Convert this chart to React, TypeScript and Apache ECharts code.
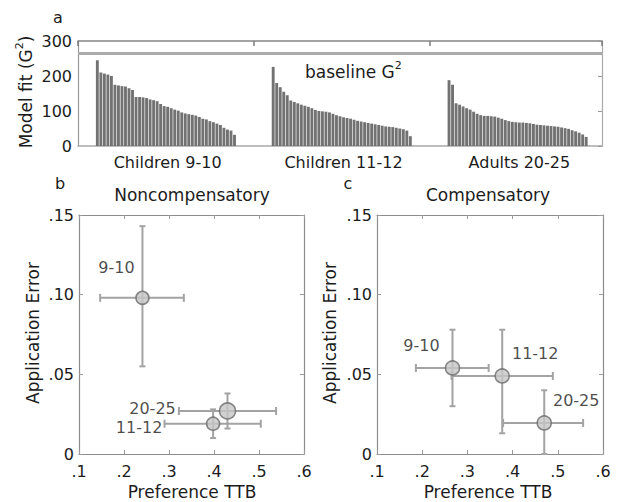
import React, { useEffect, useRef } from 'react';
import * as echarts from 'echarts';

// ---------- Panel a: model fit per participant ----------
const groupNames = ['Children 9-10', 'Children 11-12', 'Adults 20-25'];
const fitChildren910 = [245, 210, 207, 204, 200, 175, 173, 171, 170, 165, 160, 140, 140, 139, 137, 133, 131, 128, 120, 114, 112, 108, 104, 101, 96, 93, 91, 89, 87, 83, 78, 76, 71, 68, 64, 60, 52, 47, 44, 32];
const fitChildren1112 = [226, 180, 168, 155, 145, 130, 126, 122, 118, 115, 112, 108, 103, 100, 99, 98, 96, 92, 88, 85, 82, 80, 78, 75, 72, 70, 68, 66, 64, 62, 60, 58, 56, 55, 54, 52, 50, 48, 44, 28];
const fitAdults2025 = [188, 175, 122, 118, 113, 108, 104, 98, 92, 88, 86, 86, 85, 84, 81, 78, 74, 71, 69, 68, 67, 67, 66, 65, 63, 61, 60, 59, 58, 57, 56, 55, 53, 51, 49, 45, 42, 38, 33, 26];
const baselineG2 = 266;
const fitAxisMin = 0;
const fitAxisMax = 300;
const fitAxisStep = 100;

// ---------- Panels b & c ----------
const ageGroups = ['9-10', '11-12', '20-25'];
// Noncompensatory
const nonCompTTB = [0.241, 0.398, 0.430];
const nonCompTTBLow = [0.147, 0.290, 0.322];
const nonCompTTBHigh = [0.333, 0.504, 0.538];
const nonCompErr = [0.098, 0.019, 0.027];
const nonCompErrLow = [0.055, 0.010, 0.016];
const nonCompErrHigh = [0.143, 0.028, 0.038];
// Compensatory
const compTTB = [0.267, 0.377, 0.470];
const compTTBLow = [0.186, 0.265, 0.379];
const compTTBHigh = [0.347, 0.489, 0.556];
const compErr = [0.054, 0.049, 0.0195];
const compErrLow = [0.030, 0.013, 0.0];
const compErrHigh = [0.078, 0.078, 0.040];

const ttbTicks = { min: 0.1, max: 0.6, step: 0.1 };
const errTicks = { min: 0, max: 0.15, step: 0.05 };

// styling
const FONT = 'DejaVu Sans';
const TXT = '#1c1c1c';
const AXIS = '#8c8c8c';
const markerSizeB = [13, 13, 16];
const markerSizeC = [14, 14, 14];
const labelOffsetB = [[-26, -30], [-74, 4], [-75, -2]];
const labelOffsetC = [[-31, -22], [33, -22], [32, -22]];

// layout of the category slots in panel a
const PAD_LEFT = 5;
const GAP = 10;
const PAD_RIGHT = 4;

function buildSlots() {
  const values: (number | null)[] = [];
  const labels: string[] = [];
  const centers: number[] = [];
  const groups = [fitChildren910, fitChildren1112, fitAdults2025];
  const pushEmpty = (n: number) => {
    for (let i = 0; i < n; i++) { values.push(null); labels.push(''); }
  };
  pushEmpty(PAD_LEFT);
  groups.forEach((g, gi) => {
    const start = values.length;
    const mid = start + Math.floor(g.length / 2);
    centers.push(mid);
    g.forEach((v, i) => {
      values.push(v);
      labels.push(start + i === mid ? groupNames[gi] : '');
    });
    if (gi < groups.length - 1) pushEmpty(GAP);
  });
  pushEmpty(PAD_RIGHT);
  return { values, labels, centers };
}

const fmtTTB = (v: number) => '.' + Math.round(v * 10);
const fmtErr = (v: number) => (Math.abs(v) < 1e-9 ? '0' : '.' + String(Math.round(v * 100)).padStart(2, '0'));

function errorBarSeries(xi: number, yi: number, xs: number[], xl: number[], xh: number[], ys: number[], yl: number[], yh: number[]) {
  return {
    type: 'custom',
    xAxisIndex: xi,
    yAxisIndex: yi,
    z: 2,
    encode: { x: 0, y: 1 },
    data: xs.map((x, i) => [x, ys[i], xl[i], xh[i], yl[i], yh[i]]),
    renderItem: (params: any, api: any) => {
      const x = api.value(0), y = api.value(1);
      const pL = api.coord([api.value(2), y]);
      const pR = api.coord([api.value(3), y]);
      const pT = api.coord([x, api.value(5)]);
      const pB = api.coord([x, api.value(4)]);
      const st = { stroke: '#a3a3a3', lineWidth: 2 };
      const hc = 4, vc = 3;
      const ln = (x1: number, y1: number, x2: number, y2: number) => ({ type: 'line', shape: { x1, y1, x2, y2 }, style: st });
      return {
        type: 'group',
        children: [
          ln(pL[0], pL[1], pR[0], pR[1]),
          ln(pL[0], pL[1] - hc, pL[0], pL[1] + hc),
          ln(pR[0], pR[1] - hc, pR[0], pR[1] + hc),
          ln(pT[0], pT[1], pB[0], pB[1]),
          ln(pT[0] - vc, pT[1], pT[0] + vc, pT[1]),
          ln(pB[0] - vc, pB[1], pB[0] + vc, pB[1]),
        ],
      };
    },
  };
}

function pointSeries(xi: number, yi: number, xs: number[], ys: number[], sizes: number[], offsets: number[][]) {
  return {
    type: 'scatter',
    xAxisIndex: xi,
    yAxisIndex: yi,
    z: 3,
    symbol: 'circle',
    itemStyle: { color: '#c6c6c6', borderColor: '#6c6c6c', borderWidth: 1.6 },
    label: {
      show: true,
      position: 'inside',
      formatter: (p: any) => ageGroups[p.dataIndex],
      color: TXT,
      fontSize: 16,
      fontFamily: FONT,
    },
    data: xs.map((x, i) => ({
      value: [x, ys[i]],
      symbolSize: sizes[i],
      label: { offset: offsets[i] },
    })),
  };
}

function scatterAxes(grid: number) {
  const lineStyle = { color: AXIS, width: 1.2 };
  const tick = { show: true, inside: true, length: 4, lineStyle: { color: '#9a9a9a' } };
  const x = [
    {
      type: 'value', gridIndex: grid, position: 'bottom', min: ttbTicks.min, max: ttbTicks.max, interval: ttbTicks.step,
      axisLine: { show: true, onZero: false, lineStyle }, axisTick: tick, splitLine: { show: false },
      axisLabel: { formatter: fmtTTB, color: TXT, fontSize: 16, fontFamily: FONT, margin: 9 },
    },
    {
      type: 'value', gridIndex: grid, position: 'top', min: ttbTicks.min, max: ttbTicks.max, interval: ttbTicks.step,
      axisLine: { show: true, onZero: false, lineStyle }, axisTick: tick, splitLine: { show: false }, axisLabel: { show: false },
    },
  ];
  const y = [
    {
      type: 'value', gridIndex: grid, position: 'left', min: errTicks.min, max: errTicks.max, interval: errTicks.step,
      axisLine: { show: true, onZero: false, lineStyle }, axisTick: tick, splitLine: { show: false },
      axisLabel: { formatter: fmtErr, color: TXT, fontSize: 16, fontFamily: FONT, margin: 5 },
    },
    {
      type: 'value', gridIndex: grid, position: 'right', min: errTicks.min, max: errTicks.max, interval: errTicks.step,
      axisLine: { show: true, onZero: false, lineStyle }, axisTick: tick, splitLine: { show: false }, axisLabel: { show: false },
    },
  ];
  return { x, y };
}

function txt(text: string, x: number, y: number, extra: any = {}) {
  return {
    type: 'text',
    x,
    y,
    rotation: extra.rotation || 0,
    style: {
      text,
      fontSize: extra.fontSize || 16,
      fontFamily: FONT,
      fill: TXT,
      align: extra.align || 'center',
      textAlign: extra.align || 'center',
      verticalAlign: 'middle',
      textVerticalAlign: 'middle',
      rich: extra.rich,
    },
  };
}

const supRich = {
  n: { fontSize: 17, lineHeight: 24, fontFamily: FONT, fill: TXT, color: TXT },
  s: { fontSize: 11, lineHeight: 11, fontFamily: FONT, fill: TXT, color: TXT, verticalAlign: 'top' },
};

export default function App() {
  const ref = useRef<HTMLDivElement>(null);
  useEffect(() => {
    if (!ref.current) return;
    const chart = echarts.init(ref.current, undefined, { renderer: 'svg' });
    const slots = buildSlots();
    const b = scatterAxes(1);
    const c = scatterAxes(2);
    // top axis of panel a: a value axis in slot units, shifted so that ticks land on the group centres
    const slotCount = slots.values.length;
    const groupStep = slots.centers[1] - slots.centers[0];
    const topMin = -slots.centers[0];
    const topMax = slotCount - slots.centers[0];

    const option: any = {
      animation: false,
      textStyle: { fontFamily: FONT },
      grid: [
        { left: 78, top: 41, width: 524, height: 105 },
        { left: 79, top: 215, width: 225, height: 239 },
        { left: 377, top: 215, width: 226, height: 239 },
      ],
      xAxis: [
        {
          type: 'category', gridIndex: 0, position: 'bottom', data: slots.labels,
          axisLine: { show: true, onZero: false, lineStyle: { color: '#a9a9a9', width: 1.5 } },
          axisTick: { show: false },
          axisLabel: { interval: 0, color: TXT, fontSize: 16, fontFamily: FONT, margin: 8 },
          splitLine: { show: false },
        },
        {
          type: 'value', gridIndex: 0, position: 'top', min: topMin, max: topMax, interval: groupStep,
          axisLine: { show: true, onZero: false, lineStyle: { color: '#858585', width: 1.5 } },
          axisTick: { show: true, inside: true, length: 5, lineStyle: { color: '#7a7a7a', width: 1.5 } },
          axisLabel: { show: false },
          splitLine: { show: false },
        },
        ...b.x,
        ...c.x,
      ],
      yAxis: [
        {
          type: 'value', gridIndex: 0, position: 'left', min: fitAxisMin, max: fitAxisMax, interval: fitAxisStep,
          axisLine: { show: true, onZero: false, lineStyle: { color: '#999', width: 1.2 } },
          axisTick: { show: false },
          axisLabel: { color: TXT, fontSize: 16, fontFamily: FONT, margin: 6 },
          splitLine: { show: false },
        },
        {
          type: 'value', gridIndex: 0, position: 'right', min: fitAxisMin, max: fitAxisMax, interval: fitAxisStep,
          axisLine: { show: true, onZero: false, lineStyle: { color: '#aaa', width: 1.2 } },
          axisTick: { show: true, inside: true, length: 4, lineStyle: { color: '#999' } },
          axisLabel: { show: false },
          splitLine: { show: false },
        },
        ...b.y,
        ...c.y,
      ],
      series: [
        {
          type: 'bar',
          xAxisIndex: 0,
          yAxisIndex: 0,
          data: slots.values.map((v) => (v === null ? '-' : v)),
          barCategoryGap: '18%',
          itemStyle: { color: '#727272' },
          markLine: {
            silent: true,
            symbol: 'none',
            label: { show: false },
            lineStyle: { color: '#ababab', width: 3, type: 'solid' },
            data: [{ yAxis: baselineG2 }],
          },
        },
        errorBarSeries(2, 2, nonCompTTB, nonCompTTBLow, nonCompTTBHigh, nonCompErr, nonCompErrLow, nonCompErrHigh),
        pointSeries(2, 2, nonCompTTB, nonCompErr, markerSizeB, labelOffsetB),
        errorBarSeries(4, 4, compTTB, compTTBLow, compTTBHigh, compErr, compErrLow, compErrHigh),
        pointSeries(4, 4, compTTB, compErr, markerSizeC, labelOffsetC),
      ],
      graphic: [
        txt('a', 58, 17),
        txt('b', 60, 183),
        txt('c', 348, 183),
        txt('{n|baseline G}{s|2}', 305, 72, { align: 'left', rich: supRich }),
        txt('{n|Model fit (G}{s|2}{n|)}', 26, 92, { rotation: Math.PI / 2, rich: supRich }),
        txt('Noncompensatory', 192, 195, { fontSize: 17 }),
        txt('Compensatory', 488, 195, { fontSize: 17 }),
        txt('Preference TTB', 192, 492, { fontSize: 17 }),
        txt('Preference TTB', 488, 492, { fontSize: 17 }),
        txt('Application Error', 33, 333, { rotation: Math.PI / 2, fontSize: 17 }),
        txt('Application Error', 330, 333, { rotation: Math.PI / 2, fontSize: 17 }),
      ],
    };
    chart.setOption(option);
    return () => chart.dispose();
  }, []);
  return (
    <div
      ref={ref}
      style={{ position: 'fixed', left: 0, top: 0, width: 617, height: 502, background: '#fff' }}
    />
  );
}
